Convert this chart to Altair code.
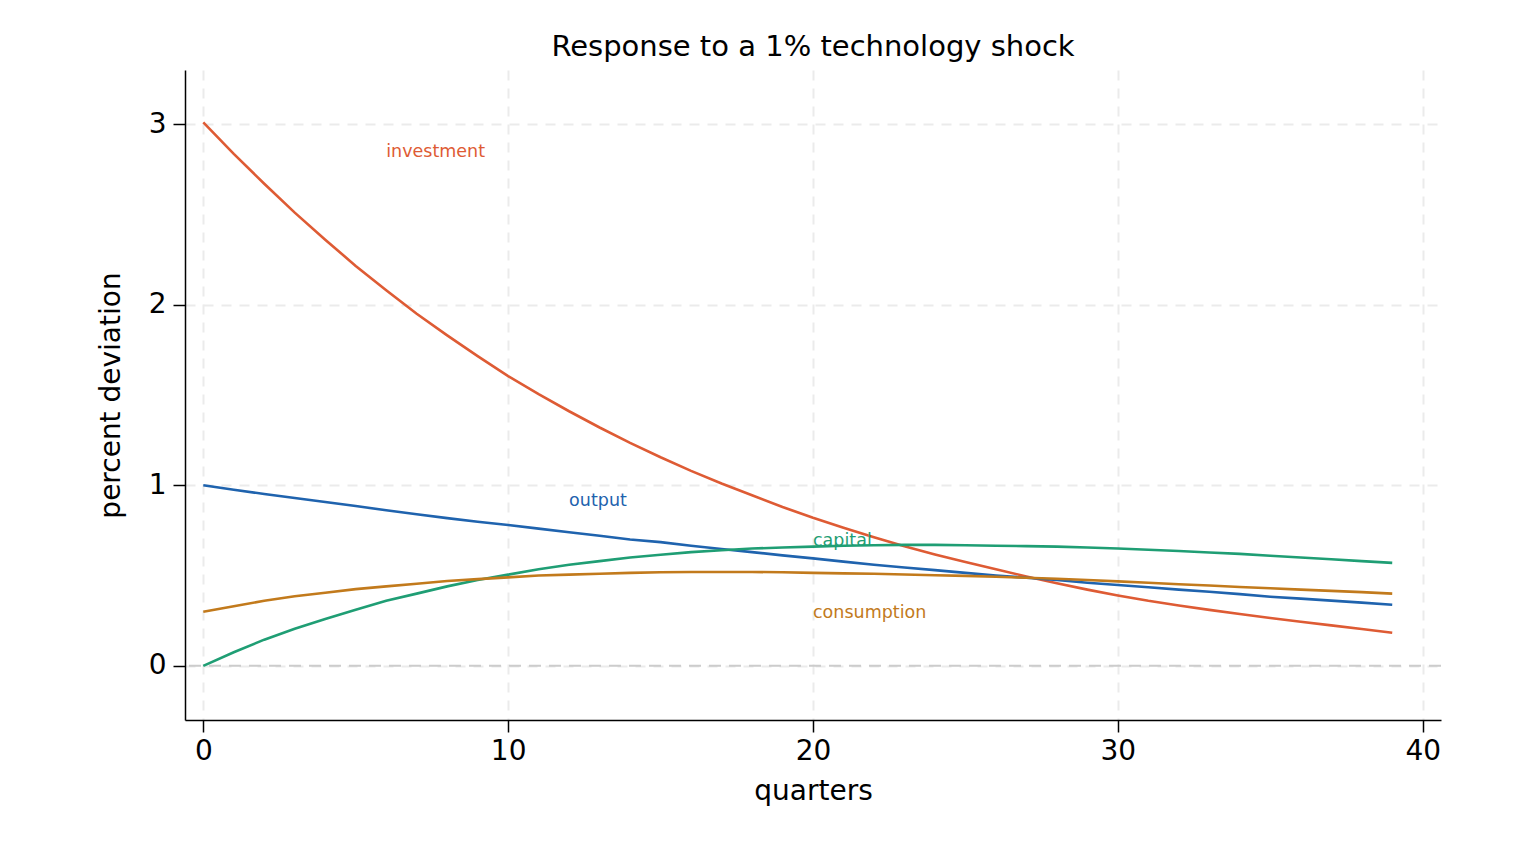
import altair as alt
import pandas as pd

quarters = list(range(40))

investment = [3.01, 2.835, 2.67, 2.51, 2.36, 2.215, 2.08, 1.95, 1.83, 1.715,
              1.605, 1.505, 1.41, 1.32, 1.235, 1.155, 1.08, 1.01, 0.945, 0.88,
              0.82, 0.765, 0.712, 0.662, 0.617, 0.575, 0.535, 0.495, 0.457, 0.422,
              0.39, 0.36, 0.334, 0.31, 0.287, 0.265, 0.244, 0.224, 0.204, 0.183]
output = [1.0, 0.975, 0.952, 0.93, 0.907, 0.885, 0.862, 0.84, 0.818, 0.798,
          0.78, 0.76, 0.74, 0.72, 0.70, 0.685, 0.665, 0.647, 0.63, 0.612,
          0.595, 0.577, 0.56, 0.545, 0.53, 0.515, 0.50, 0.488, 0.475, 0.46,
          0.448, 0.435, 0.422, 0.41, 0.397, 0.383, 0.372, 0.361, 0.35, 0.338]
capital = [0.0, 0.075, 0.145, 0.205, 0.26, 0.31, 0.36, 0.40, 0.44, 0.475,
           0.505, 0.535, 0.56, 0.58, 0.60, 0.615, 0.63, 0.64, 0.65, 0.655,
           0.66, 0.665, 0.668, 0.67, 0.67, 0.668, 0.665, 0.663, 0.66, 0.655,
           0.65, 0.643, 0.636, 0.628, 0.62, 0.61, 0.60, 0.59, 0.58, 0.57]
consumption = [0.30, 0.33, 0.36, 0.385, 0.405, 0.425, 0.44, 0.455, 0.47, 0.48,
               0.49, 0.50, 0.505, 0.51, 0.515, 0.518, 0.52, 0.52, 0.52, 0.518,
               0.515, 0.512, 0.51, 0.506, 0.502, 0.498, 0.493, 0.488, 0.482, 0.475,
               0.468, 0.46, 0.452, 0.445, 0.437, 0.43, 0.422, 0.415, 0.408, 0.40]

series_names = ["investment", "output", "capital", "consumption"]
series_colors = ["#DE5B34", "#1F63AE", "#1F9E74", "#C27A1C"]

label_x = [6, 12, 20, 20]
label_y = [2.845, 0.913, 0.692, 0.293]

x_ticks = [0, 10, 20, 30, 40]
y_ticks = [0, 1, 2, 3]

rows = []
for name, vals in zip(series_names, [investment, output, capital, consumption]):
    for q, v in zip(quarters, vals):
        rows.append({"quarter": q, "value": v, "series": name})
df = pd.DataFrame(rows)

labels_df = pd.DataFrame({"series": series_names, "quarter": label_x, "value": label_y})
zero_df = pd.DataFrame({"value": [0]})

color_scale = alt.Scale(domain=series_names, range=series_colors)
x_scale = alt.Scale(domain=[-0.6, 40.6], nice=False, zero=False)
y_scale = alt.Scale(domain=[-0.3, 3.3], nice=False, zero=False)

x_axis = alt.Axis(values=x_ticks, title="quarters", grid=True, gridDash=[10, 8],
                  gridColor="#ebebeb", gridWidth=2, domainColor="#000000", domainWidth=1.5,
                  tickColor="#000000", tickSize=12, tickWidth=1.5, labelFontSize=28,
                  labelPadding=5, labelColor="#000000", titleFontSize=28, titleColor="#000000",
                  titleFontWeight="normal", titlePadding=12, labelFont="DejaVu Sans",
                  titleFont="DejaVu Sans")
y_axis = alt.Axis(values=y_ticks, title="percent deviation", grid=True, gridDash=[10, 8],
                  gridColor="#ebebeb", gridWidth=2, domainColor="#000000", domainWidth=1.5,
                  tickColor="#000000", tickSize=12, tickWidth=1.5, labelFontSize=28,
                  labelPadding=7, labelColor="#000000", titleFontSize=28, titleColor="#000000",
                  titleFontWeight="normal", titlePadding=23, labelFont="DejaVu Sans",
                  titleFont="DejaVu Sans")

X = alt.X("quarter:Q", scale=x_scale, axis=x_axis)
Y = alt.Y("value:Q", scale=y_scale, axis=y_axis)

lines = alt.Chart(df).mark_line(strokeWidth=2.6).encode(
    x=X, y=Y,
    color=alt.Color("series:N", scale=color_scale, legend=None),
    detail="series:N",
)

zero_rule = alt.Chart(zero_df).mark_rule(
    color="#cccccc", strokeWidth=2, strokeDash=[12, 8]
).encode(y=Y)

texts = alt.Chart(labels_df).mark_text(
    align="left", baseline="middle", fontSize=17.5, font="DejaVu Sans"
).encode(
    x=X, y=Y,
    text="series:N",
    color=alt.Color("series:N", scale=color_scale, legend=None),
)

chart = alt.layer(zero_rule, lines, texts).properties(
    width=1256, height=650,
    background="#ffffff",
    title=alt.TitleParams("Response to a 1% technology shock", fontSize=29,
                          font="DejaVu Sans", fontWeight="normal", color="#000000",
                          anchor="middle", offset=8, baseline="bottom", dy=29),
    autosize=alt.AutoSizeParams(type="none"),
    padding={"left": 177, "top": 62, "right": 87, "bottom": 110},
).configure_view(stroke="transparent", strokeWidth=0)

chart.save("out.html", embed_options={"renderer": "svg", "actions": False})
